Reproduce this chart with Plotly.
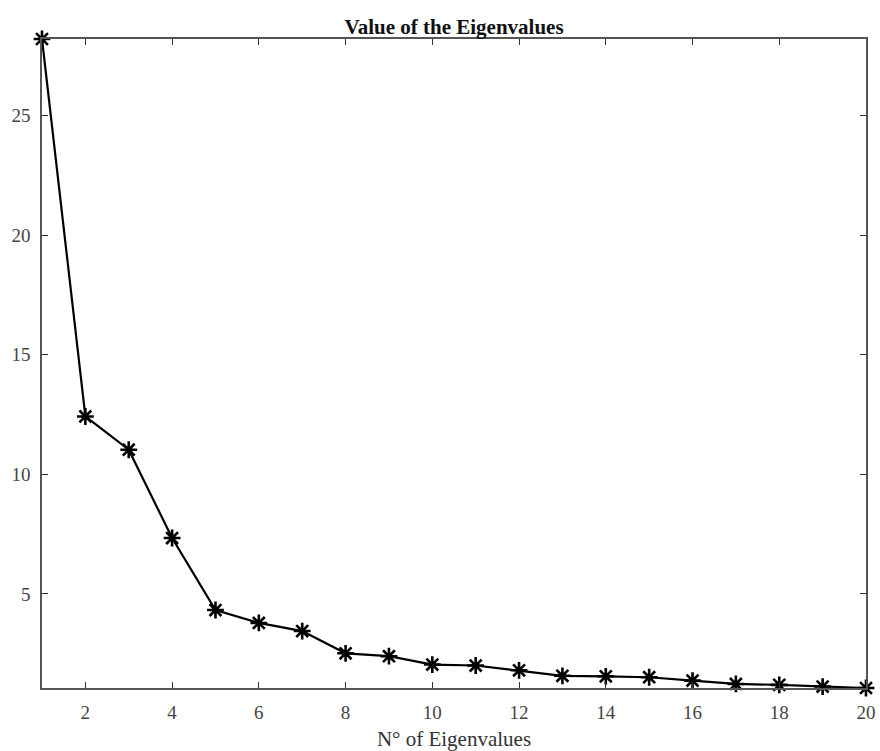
import plotly.graph_objects as go

x_idx = list(range(1, 21))
eigenvalues = [28.2, 12.42, 11.03, 7.34, 4.33, 3.79, 3.45, 2.52, 2.40, 2.05,
               2.01, 1.81, 1.58, 1.56, 1.52, 1.38, 1.24, 1.20, 1.13, 1.07]
x_ticks = [2, 4, 6, 8, 10, 12, 14, 16, 18, 20]
y_ticks = [5, 10, 15, 20, 25]

fig = go.Figure()
fig.add_trace(go.Scatter(
    x=x_idx, y=eigenvalues, mode="lines+markers",
    line=dict(color="black", width=2.2),
    marker=dict(symbol="asterisk-open", size=14, color="black",
                line=dict(color="black", width=2.6)),
    cliponaxis=False, showlegend=False,
))

font_family = "Liberation Serif, Times New Roman, serif"
axis_common = dict(
    showgrid=False, zeroline=False, showline=True, linecolor="#555555",
    linewidth=1.5, mirror="ticks", ticks="inside", ticklen=6, tickwidth=1,
    tickcolor="#333333", automargin=False,
    tickfont=dict(family=font_family, size=19, color="#444444"),
)
fig.update_xaxes(range=[1, 20], tickvals=x_ticks, ticklabelstandoff=6,
                 title=dict(text="N° of Eigenvalues", standoff=10,
                            font=dict(family=font_family, size=21, color="#333333")),
                 **axis_common)
fig.update_yaxes(range=[min(eigenvalues), max(eigenvalues)], tickvals=y_ticks,
                 ticklabelstandoff=6, **axis_common)

fig.update_layout(
    width=880, height=751,
    margin=dict(l=42, r=14, t=39, b=63),
    plot_bgcolor="white", paper_bgcolor="white",
    title=dict(text="<b>Value of the Eigenvalues</b>", x=0.5, xref="paper",
               xanchor="center", yref="paper", y=1, yanchor="bottom",
               pad=dict(b=5), automargin=False,
               font=dict(family=font_family, size=21, color="#111111")),
)

fig.write_html("out.html", config={"displayModeBar": False},
               post_script="document.body.style.margin='0';")
